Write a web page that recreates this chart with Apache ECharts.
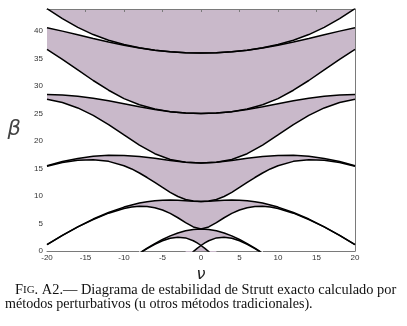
<!DOCTYPE html>
<html>
<head>
<meta charset="utf-8">
<script src="https://cdn.jsdelivr.net/npm/echarts@6/dist/echarts.min.js"></script>
<style>
  html, body { margin: 0; padding: 0; background: #fff; }
  #chart { width: 407px; height: 326px; }
</style>
</head>
<body>
<div id="chart"></div>
<script>
// characteristic curves beta(nu), read for nu >= 0 (the diagram is symmetric in nu)
var nuB1 = [0, 0.5, 1, 2]
var b1 = [1, 0.471, -0.110, -1.391]
var nuA1 = [0, 0.5, 1, 2, 3, 4, 5, 6, 7, 8]
var a1 = [1, 1.468, 1.859, 2.379, 2.519, 2.318, 1.858, 1.214, 0.440, -0.436]
var nuB2 = [0, 1, 2, 3, 4, 5, 6, 7, 8]
var b2 = [4, 3.917, 3.672, 3.277, 2.747, 2.099, 1.352, 0.518, -0.387]
var nuFine = [0, 1, 2, 3, 4, 5, 6, 7, 8, 9, 10, 12, 14, 16, 18, 20]
var a2 = [4, 4.371, 5.172, 6.046, 6.830, 7.449, 7.870, 8.087, 8.115, 7.982, 7.717, 6.879, 5.736, 4.380, 2.840, 1.160]
var b3 = [9, 9.048, 9.141, 9.223, 9.263, 9.237, 9.138, 8.963, 8.720, 8.380, 7.985, 7.000, 5.810, 4.400, 2.850, 1.170]
var a3 = [9, 9.078, 9.370, 9.915, 10.67, 11.55, 12.47, 13.36, 14.18, 14.92, 15.50, 16.30, 16.60, 16.49, 16.09, 15.41]
var nuCoarse = [0, 2, 4, 6, 8, 10, 12, 14, 16, 18, 20]
var b4 = [16, 16.13, 16.45, 16.85, 17.18, 17.38, 17.40, 17.21, 16.82, 16.27, 15.51]
var a4 = [16, 16.14, 16.65, 17.69, 19.26, 21.11, 22.97, 24.65, 26.01, 26.99, 27.60]
var b5 = [25, 25.08, 25.33, 25.72, 26.23, 26.77, 27.30, 27.77, 28.14, 28.38, 28.47]
var a5 = [25, 25.08, 25.34, 25.82, 26.58, 27.70, 29.23, 31.00, 32.93, 34.85, 36.65]
var b6 = [36, 36.06, 36.23, 36.52, 36.91, 37.42, 38.01, 38.65, 39.32, 39.98, 40.59]
var a6 = [36, 36.06, 36.23, 36.52, 36.95, 37.54, 38.32, 39.35, 40.66, 42.26, 44.06]

var caption1 = '{sc|F}{scs|IG}{sc|. A2.— Diagrama de estabilidad de Strutt exacto calculado por}'
var caption2 = 'métodos perturbativos (u otros métodos tradicionales).'

// fill of the stable regions
var shade = '#c9b9ca'

function mirror(nu, vals) {
  var pts = []
  for (var i = nu.length - 1; i > 0; i--) pts.push([-nu[i], vals[i]])
  for (var j = 0; j < nu.length; j++) pts.push([nu[j], vals[j]])
  return pts
}

// top to bottom: a_r caps an unstable (white) band, b_r caps a stable (shaded) band
var curves = [
  { name: 'a6', data: mirror(nuCoarse, a6), fill: '#fff' },
  { name: 'b6', data: mirror(nuCoarse, b6), fill: shade },
  { name: 'a5', data: mirror(nuCoarse, a5), fill: '#fff' },
  { name: 'b5', data: mirror(nuCoarse, b5), fill: shade },
  { name: 'a4', data: mirror(nuCoarse, a4), fill: '#fff' },
  { name: 'b4', data: mirror(nuCoarse, b4), fill: shade },
  { name: 'a3', data: mirror(nuFine, a3), fill: '#fff' },
  { name: 'b3', data: mirror(nuFine, b3), fill: shade },
  { name: 'a2', data: mirror(nuFine, a2), fill: '#fff' },
  { name: 'b2', data: mirror(nuB2, b2), fill: shade },
  { name: 'a1', data: mirror(nuA1, a1), fill: '#fff' },
  { name: 'b1', data: mirror(nuB1, b1), fill: shade }
]

var series = []
curves.forEach(function (c) {
  series.push({
    type: 'line',
    data: c.data,
    symbol: 'none',
    silent: true,
    z: 1,
    lineStyle: { opacity: 0 },
    areaStyle: { color: c.fill, opacity: 1, origin: 'start' }
  })
})
curves.forEach(function (c) {
  series.push({
    type: 'line',
    data: c.data,
    symbol: 'none',
    silent: true,
    z: 5,
    lineStyle: { color: '#000', width: 1.5 }
  })
})

var axisColor = '#7a7a7a'
var labelStyle = { color: '#333', fontSize: 8, fontFamily: 'Liberation Sans' }

var chart = echarts.init(document.getElementById('chart'), null, { renderer: 'canvas' })
chart.setOption({
  animation: false,
  grid: {
    left: 47, right: 52, top: 9, bottom: 75,
    show: true, borderWidth: 0, backgroundColor: shade
  },
  xAxis: [{
    type: 'value', min: -20, max: 20, interval: 5,
    name: 'ν', nameLocation: 'middle', nameGap: 7,
    nameTextStyle: { fontSize: 16, fontStyle: 'italic', fontFamily: 'DejaVu Sans', color: '#222' },
    axisLine: { show: true, lineStyle: { color: axisColor, width: 1 } },
    axisTick: { show: true, inside: true, length: 3, lineStyle: { color: axisColor } },
    axisLabel: Object.assign({ margin: 3 }, labelStyle),
    splitLine: { show: false }
  }, {
    type: 'value', min: -20, max: 20, interval: 5, position: 'top',
    axisLine: { show: true, onZero: false, lineStyle: { color: axisColor, width: 1 } },
    axisTick: { show: true, inside: true, length: 3, lineStyle: { color: axisColor } },
    axisLabel: { show: false },
    splitLine: { show: false }
  }],
  yAxis: [{
    type: 'value', min: 0, max: 44, interval: 5,
    name: 'β', nameLocation: 'middle', nameGap: 26, nameRotate: 0,
    nameTextStyle: { fontSize: 21, fontStyle: 'italic', fontFamily: 'DejaVu Sans', fontWeight: 'lighter', color: '#444' },
    axisLine: { show: true, onZero: false, lineStyle: { color: axisColor, width: 1 } },
    axisTick: { show: true, inside: true, length: 3, lineStyle: { color: axisColor } },
    axisLabel: Object.assign({ margin: 4, showMaxLabel: false }, labelStyle),
    splitLine: { show: false }
  }, {
    type: 'value', min: 0, max: 44, interval: 5, position: 'right',
    axisLine: { show: true, onZero: false, lineStyle: { color: axisColor, width: 1 } },
    axisTick: { show: true, inside: true, length: 3, lineStyle: { color: axisColor } },
    axisLabel: { show: false },
    splitLine: { show: false }
  }],
  series: series,
  graphic: [{
    type: 'text', left: 15, top: 283, silent: true,
    style: {
      text: caption1,
      fill: '#111',
      rich: {
        sc: { fontSize: 14.4, fontFamily: 'Liberation Serif', fill: '#111' },
        scs: { fontSize: 11, fontFamily: 'Liberation Serif', fill: '#111' }
      }
    }
  }, {
    type: 'text', left: 5, top: 297, silent: true,
    style: { text: caption2, fontSize: 14.1, fontFamily: 'Liberation Serif', fill: '#111' }
  }]
})
</script>
</body>
</html>
